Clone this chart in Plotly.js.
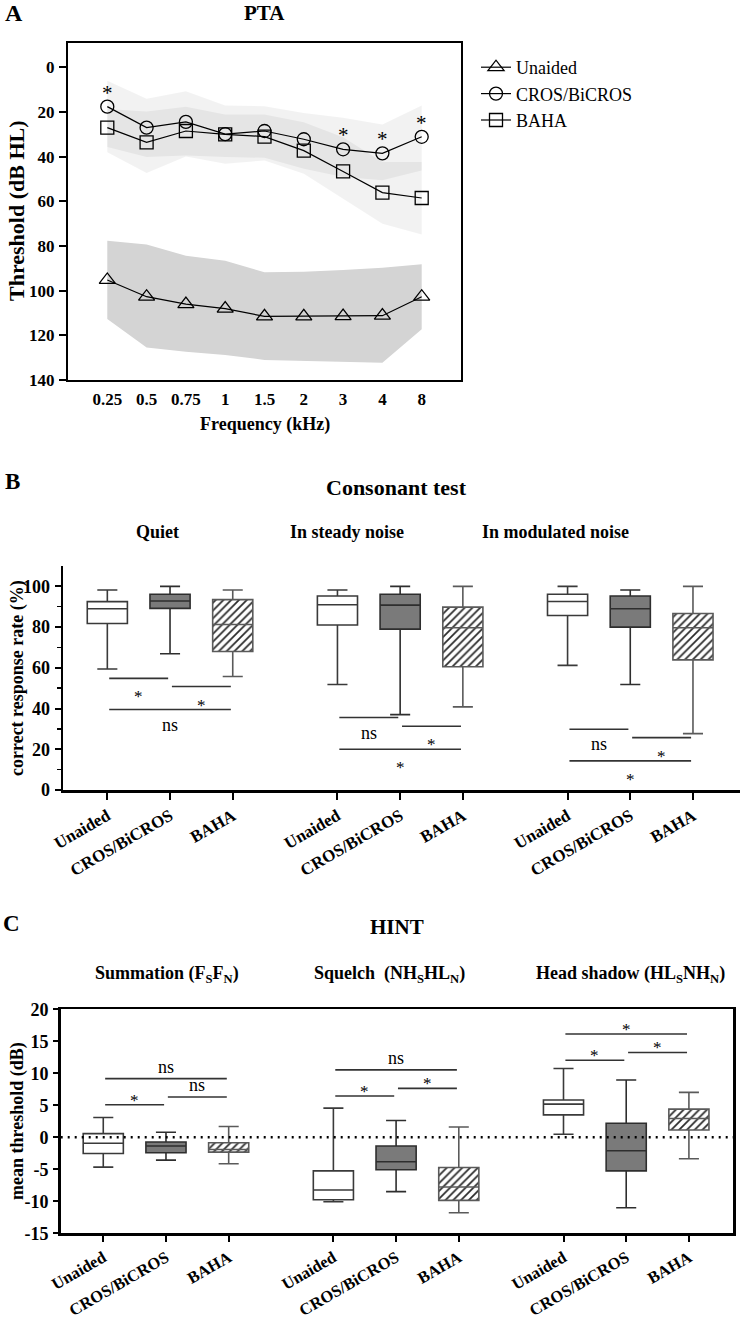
<!DOCTYPE html>
<html>
<head>
<meta charset="utf-8">
<script src="https://cdn.plot.ly/plotly-3.0.1.min.js"></script>
<style>html,body{margin:0;padding:0;background:#fff;}#chart{width:742px;height:1317px;}</style>
</head>
<body>
<div id="chart"></div>
<script>
// ---------- Panel A: PTA ----------
const freqLabels = ['0.25','0.5','0.75','1','1.5','2','3','4','8'];
const unaidedMean = [95.2, 102.7, 106, 108, 111.5, 111.5, 111.4, 111.2, 102.7];
const unaidedBandTop = [77.6, 79.3, 84.4, 86.6, 91.8, 91.5, 90.8, 89.7, 88.2];
const unaidedBandBottom = [112.7, 125.4, 127.4, 128.8, 131, 131.5, 132, 132.3, 117.3];
const crosMean = [17.6, 27, 24.4, 29.9, 28.5, 32.2, 36.7, 38.5, 31.1];
const crosBandTop = [6.0, 14.1, 10.7, 17.1, 17.4, 20.5, 22.6, 25.6, 17.1];
const crosBandBottom = [35.7, 40.2, 39.5, 40.2, 40.5, 45.4, 49.1, 50.6, 46.2];
const bahaMean = [27, 33.6, 28.5, 30, 31, 37.3, 46.6, 56.1, 58.5];
const bahaBandTop = [18.6, 19.8, 17.6, 21.1, 21.1, 24.6, 31.3, 42.4, 42.4];
const bahaBandBottom = [38.0, 47.3, 39.9, 43.2, 41.7, 47.6, 58.8, 70.0, 74.9];
const ptaSig = ['*', '', '', '', '', '', '*', '*', '*'];
const seriesNames = ['Unaided', 'CROS/BiCROS', 'BAHA'];

// ---------- Panel B: Consonant test ----------
const consConditions = ['Quiet', 'In steady noise', 'In modulated noise'];
const consUnaidedMin = [59.4, 51.8, 61.2];
const consUnaidedQ1 = [81.8, 81.0, 85.7];
const consUnaidedMed = [89.0, 91.0, 92.6];
const consUnaidedQ3 = [92.5, 95.3, 96.1];
const consUnaidedMax = [98.2, 98.2, 100];
const consCrosMin = [66.9, 37.0, 51.8];
const consCrosQ1 = [89.2, 79.0, 80.0];
const consCrosMed = [92.8, 90.8, 89.0];
const consCrosQ3 = [96.1, 96.1, 95.3];
const consCrosMax = [100, 100, 98.2];
const consBahaMin = [55.7, 40.8, 27.7];
const consBahaQ1 = [68.0, 60.5, 63.9];
const consBahaMed = [81.3, 79.7, 79.7];
const consBahaQ3 = [93.5, 89.8, 86.7];
const consBahaMax = [98.2, 100, 100];
// comparisons per condition: [device i, device j, bracket value, label]
const consSig = [
  [[0, 1, 54.8, '*'], [1, 2, 50.8, '*'], [0, 2, 39.5, 'ns']],
  [[0, 1, 35.6, 'ns'], [1, 2, 31.3, '*'], [0, 2, 20.0, '*']],
  [[0, 1, 29.8, 'ns'], [1, 2, 25.7, '*'], [0, 2, 14.3, '*']]
];

// ---------- Panel C: HINT ----------
const hintConditions = ['Summation (F<sub>S</sub>F<sub>N</sub>)', 'Squelch  (NH<sub>S</sub>HL<sub>N</sub>)', 'Head shadow (HL<sub>S</sub>NH<sub>N</sub>)'];
const hintUnaidedMin = [-4.66, -10.06, 0.47];
const hintUnaidedQ1 = [-2.52, -9.75, 3.51];
const hintUnaidedMed = [-0.94, -8.23, 5.19];
const hintUnaidedQ3 = [0.58, -5.24, 5.82];
const hintUnaidedMax = [3.09, 4.56, 10.74];
const hintCrosMin = [-3.56, -8.49, -11.0];
const hintCrosQ1 = [-2.41, -5.08, -5.24];
const hintCrosMed = [-1.36, -3.83, -2.1];
const hintCrosQ3 = [-0.73, -1.36, 2.2];
const hintCrosMax = [0.79, 2.62, 8.96];
const hintBahaMin = [-4.14, -11.79, -3.35];
const hintBahaQ1 = [-2.31, -9.85, 1.15];
const hintBahaMed = [-1.9, -7.76, 2.93];
const hintBahaQ3 = [-0.84, -4.72, 4.4];
const hintBahaMax = [1.68, 1.62, 7.02];
const hintSig = [
  [[0, 1, 5.08, '*'], [1, 2, 6.29, 'ns'], [0, 2, 9.17, 'ns']],
  [[0, 1, 6.45, '*'], [1, 2, 7.65, '*'], [0, 2, 10.53, 'ns']],
  [[0, 1, 12.05, '*'], [1, 2, 13.26, '*'], [0, 2, 16.14, '*']]
];

// ---------- helpers ----------
const W = 742, H = 1317;
const px = v => v / W;
const py = v => 1 - v / H;
const FONT = "'Liberation Serif', 'Times New Roman', 'DejaVu Serif', serif";
const GROUP_STEP = 3.67;
const posOf = (g, k) => g * GROUP_STEP + k;
const devicePos = k => [0, 1, 2].map(g => posOf(g, k));
const allPos = [];
const allText = [];
[0, 1, 2].forEach(g => [0, 1, 2].forEach(k => { allPos.push(posOf(g, k)); allText.push(seriesNames[k]); }));

const traces = [];
// Panel A bands
function band(top, bottom, color) {
  traces.push({type: 'scatter', x: freqLabels, y: top, mode: 'lines', line: {color: 'rgba(0,0,0,0)', width: 0},
    xaxis: 'x', yaxis: 'y', showlegend: false, hoverinfo: 'skip'});
  traces.push({type: 'scatter', x: freqLabels, y: bottom, mode: 'lines', line: {color: 'rgba(0,0,0,0)', width: 0},
    fill: 'tonexty', fillcolor: color, xaxis: 'x', yaxis: 'y', showlegend: false, hoverinfo: 'skip'});
}
band(unaidedBandTop, unaidedBandBottom, 'rgb(212,212,212)');
band(crosBandTop, crosBandBottom, 'rgba(0,0,0,0.05)');
band(bahaBandTop, bahaBandBottom, 'rgba(0,0,0,0.05)');
const symbols = ['triangle-up-open', 'circle-open', 'square-open'];
[unaidedMean, crosMean, bahaMean].forEach((m, i) => {
  traces.push({type: 'scatter', x: freqLabels, y: m, mode: 'lines+markers', name: seriesNames[i],
    line: {color: 'black', width: 1.2},
    marker: {symbol: symbols[i], size: i === 0 ? 14 : 13, color: 'black', line: {width: 1.3, color: 'black'}},
    xaxis: 'x', yaxis: 'y', showlegend: true});
});

// Box panels
function boxPanel(xa, ya, stats) {
  const fills = ['white', 'rgb(122,122,122)', 'rgba(0,0,0,0)'];
  const lines = ['#3a3a3a', '#2e2e2e', '#5a5a5a'];
  const b = stats[2];
  traces.push({type: 'bar', x: devicePos(2), base: b.q1, y: b.q3.map((v, i) => v - b.q1[i]), width: 0.64,
    marker: {color: 'white', line: {width: 0}, pattern: {shape: '/', fgcolor: '#2a2a2a', bgcolor: 'white', size: 5.5, solidity: 0.32}},
    xaxis: xa, yaxis: ya, showlegend: false, hoverinfo: 'skip'});
  stats.forEach((s, k) => {
    traces.push({type: 'box', x: devicePos(k), q1: s.q1, median: s.med, q3: s.q3, lowerfence: s.min, upperfence: s.max,
      width: 0.64, whiskerwidth: 0.5, fillcolor: fills[k], line: {color: lines[k], width: 1.6},
      boxpoints: false, xaxis: xa, yaxis: ya, showlegend: false, hoverinfo: 'skip'});
  });
}
boxPanel('x2', 'y2', [
  {min: consUnaidedMin, q1: consUnaidedQ1, med: consUnaidedMed, q3: consUnaidedQ3, max: consUnaidedMax},
  {min: consCrosMin, q1: consCrosQ1, med: consCrosMed, q3: consCrosQ3, max: consCrosMax},
  {min: consBahaMin, q1: consBahaQ1, med: consBahaMed, q3: consBahaQ3, max: consBahaMax}
]);
boxPanel('x3', 'y3', [
  {min: hintUnaidedMin, q1: hintUnaidedQ1, med: hintUnaidedMed, q3: hintUnaidedQ3, max: hintUnaidedMax},
  {min: hintCrosMin, q1: hintCrosQ1, med: hintCrosMed, q3: hintCrosQ3, max: hintCrosMax},
  {min: hintBahaMin, q1: hintBahaQ1, med: hintBahaMed, q3: hintBahaQ3, max: hintBahaMax}
]);

// ---------- annotations & shapes ----------
const ann = [];
const shapes = [];
function label(text, x, y, size, opts) {
  ann.push(Object.assign({text: text, x: px(x), y: py(y), xref: 'paper', yref: 'paper', showarrow: false,
    xanchor: 'center', yanchor: 'middle', font: {family: FONT, size: size, color: 'black', weight: 'bold'}}, opts || {}));
}
label('A', 14, 13, 24);
label('PTA', 264, 13, 21);
label('Frequency (kHz)', 264.5, 424, 18);
label('Threshold (dB HL)', 17, 211, 22, {textangle: -90});
label('B', 12, 482, 23);
label('Consonant test', 397, 488, 22);
[157, 347, 555].forEach((x, i) => label(consConditions[i], x, 532, 18));
label('correct response rate (%)', 17, 678, 18, {textangle: -90});
label('C', 11, 923, 23);
label('HINT', 397, 927, 21);
[167, 390, 630].forEach((x, i) => label(hintConditions[i], x, 974, 18));
label('mean threshold (dB)', 17, 1121, 18, {textangle: -90});

// PTA significance stars (x given as category index)
ptaSig.forEach((s, i) => {
  if (!s) return;
  ann.push({text: s, x: i, y: crosMean[i], xref: 'x', yref: 'y', showarrow: false,
    yanchor: 'middle', yshift: 14, font: {family: FONT, size: 21, color: 'black'}});
});

function sigPanel(xa, ya, sig, below) {
  sig.forEach((grp, g) => grp.forEach(([i, j, v, t]) => {
    const x0 = posOf(g, i) + 0.03, x1 = posOf(g, j) - 0.03;
    shapes.push({type: 'line', xref: xa, yref: ya, x0: x0, x1: x1, y0: v, y1: v, line: {color: '#333', width: 1.6}});
    const star = t === '*';
    ann.push({text: t, x: (x0 + x1) / 2, y: v, xref: xa, yref: ya, showarrow: false,
      yanchor: below ? 'top' : 'bottom',
      yshift: below ? (star ? -7 : -3) : (star ? -7 : 0),
      font: {family: FONT, size: star ? 17 : 18, color: 'black'}});
  }));
}
sigPanel('x2', 'y2', consSig, true);
sigPanel('x3', 'y3', hintSig, false);

shapes.push({type: 'line', xref: 'x3 domain', yref: 'y3', x0: 0, x1: 1, y0: 0, y1: 0,
  line: {color: 'black', width: 2.5, dash: '2px,5px'}});

const tickFontA = {family: FONT, size: 17, color: 'black', weight: 'bold'};
const tickFont = {family: FONT, size: 18, color: 'black', weight: 'bold'};
const tickFontX = {family: FONT, size: 17, color: 'black', weight: 'bold'};
const tickFontXC = {family: FONT, size: 16.5, color: 'black', weight: 'bold'};

const layout = {
  width: W, height: H, margin: {l: 0, r: 0, t: 0, b: 0},
  paper_bgcolor: 'white', plot_bgcolor: 'rgba(0,0,0,0)',
  boxmode: 'overlay', barmode: 'overlay',
  font: {family: FONT, color: 'black'},
  showlegend: true,
  legend: {x: px(476), y: py(49), xanchor: 'left', yanchor: 'top', bgcolor: 'rgba(0,0,0,0)', traceorder: 'normal',
    font: {family: FONT, size: 18, color: 'black'}, itemwidth: 30, tracegroupgap: 0},
  xaxis: {domain: [px(68), px(461)], anchor: 'y', type: 'category', range: [-1, 9],
    showline: true, linewidth: 2, linecolor: 'black', mirror: true, ticks: '', showgrid: false, zeroline: false,
    tickfont: tickFontA, ticklabelstandoff: 3},
  yaxis: {domain: [py(380), py(43)], anchor: 'x', range: [140, -10.9], tickvals: [0, 20, 40, 60, 80, 100, 120, 140],
    ticks: 'outside', ticklen: 7, tickwidth: 2, tickcolor: 'black', showline: true, linewidth: 2, linecolor: 'black',
    mirror: true, showgrid: false, zeroline: false, tickfont: tickFontA, ticklabelstandoff: 1},
  xaxis2: {domain: [px(63), px(740)], anchor: 'y2', range: [-0.707, 10.09], tickvals: allPos, ticktext: allText,
    tickangle: -30, ticks: 'outside', ticklen: 7, tickwidth: 2, tickcolor: 'black', showline: true, linewidth: 2.5,
    linecolor: 'black', showgrid: false, zeroline: false, tickfont: tickFontX},
  yaxis2: {domain: [py(790), py(566)], anchor: 'x2', range: [0, 110], tickvals: [0, 20, 40, 60, 80, 100],
    ticks: 'outside', ticklen: 6, tickwidth: 2, tickcolor: 'black', showline: true, linewidth: 2.5, linecolor: 'black',
    showgrid: false, zeroline: false, tickfont: tickFont, ticklabelstandoff: 1,
    minor: {tickvals: [10, 30, 50, 70, 90], ticks: 'outside', ticklen: 4, tickwidth: 1.5, tickcolor: 'black', showgrid: false}},
  xaxis3: {domain: [px(60.7), px(733.3)], anchor: 'y3', range: [-0.679, 10.048], tickvals: allPos, ticktext: allText,
    tickangle: -30, ticks: 'outside', ticklen: 6, tickwidth: 2, tickcolor: 'black', showline: true, linewidth: 2.5,
    linecolor: 'black', mirror: true, showgrid: false, zeroline: false, tickfont: tickFontXC},
  yaxis3: {domain: [py(1233.3), py(1009.3)], anchor: 'x3', range: [-15, 20], tickvals: [-15, -10, -5, 0, 5, 10, 15, 20],
    ticktext: ['-15', '-10', '-5', '0', '5', '10', '15', '20'],
    ticks: 'outside', ticklen: 5, tickwidth: 2, tickcolor: 'black', showline: true, linewidth: 2.5, linecolor: 'black',
    mirror: true, showgrid: false, zeroline: false, tickfont: tickFont, ticklabelstandoff: 1},
  annotations: ann,
  shapes: shapes
};

Plotly.newPlot('chart', traces, layout, {staticPlot: true, displayModeBar: false});
</script>
</body>
</html>
